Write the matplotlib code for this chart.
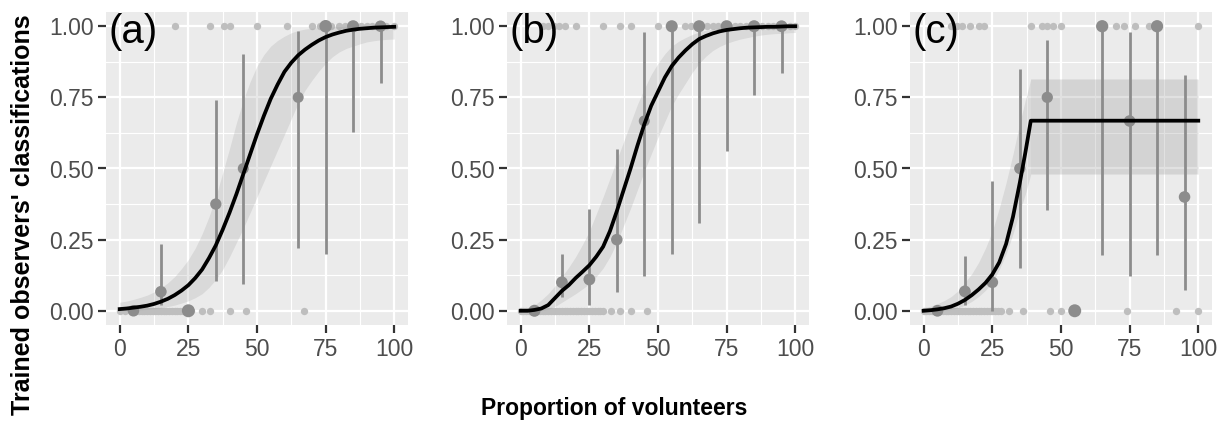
import matplotlib
matplotlib.use("Agg")
import matplotlib.pyplot as plt
import numpy as np

plt.rcParams['font.family'] = ['Liberation Sans', 'DejaVu Sans']

# ---- data ----
panel_labels = ['(a)', '(b)', '(c)']
x_ticks = [0, 25, 50, 75, 100]
y_ticks = [0.0, 0.25, 0.5, 0.75, 1.0]
y_ticklabels = ['0.00', '0.25', '0.50', '0.75', '1.00']

# raw observations (light grey dots) at 1 and 0
a_raw_one = [20, 33, 38, 40, 50, 61, 70, 73, 75, 77, 80, 82, 84, 86, 88, 90, 92, 95, 97, 100]
a_raw_zero = [0, 2, 6, 7, 8, 9, 10, 11, 12, 13, 14, 15, 16, 17, 18, 19, 20, 21, 22, 23, 24,
              25, 26, 30, 33, 40, 46, 67]
b_raw_one = [8, 10, 12, 14, 16, 20, 30, 36, 40, 50, 55, 60, 62, 65, 68, 70, 72, 75, 78, 80,
             82, 84, 86, 88, 90, 92, 94, 96, 98, 100]
b_raw_zero = [0, 1, 2, 3, 4, 5, 6, 7, 8, 9, 10, 11, 12, 13, 14, 15, 16, 17, 18, 19, 20, 21,
              22, 23, 24, 25, 26, 27, 28, 29, 30, 33, 36, 40, 46]
c_raw_one = [10, 12, 14, 17, 20, 22, 39, 43, 45, 47, 50, 65, 70, 73, 77, 82, 84, 85, 100]
c_raw_zero = [0, 1, 2, 3, 4, 5, 6, 7, 8, 9, 10, 11, 12, 13, 14, 15, 16, 17, 18, 19, 20, 21,
              22, 23, 24, 25, 26, 27, 28, 31, 36, 46, 50, 55, 74, 92, 100]

# binned proportions with intervals and counts
a_bin = [5, 15, 25, 35, 45, 65, 75, 85, 95]
a_mean = [0.0, 0.067, 0.0, 0.375, 0.5, 0.75, 1.0, 1.0, 1.0]
a_lo = [0.0, 0.02, 0.0, 0.103, 0.095, 0.22, 0.199, 0.63, 0.80]
a_hi = [0.0, 0.234, 0.0, 0.74, 0.904, 0.983, 1.0, 1.0, 1.0]
a_n = [8, 8, 14, 7, 6, 6, 12, 10, 8]

b_bin = [5, 15, 25, 35, 45, 55, 65, 75, 85, 95]
b_mean = [0.0, 0.10, 0.11, 0.25, 0.667, 1.0, 1.0, 1.0, 1.0, 1.0]
b_lo = [0.0, 0.05, 0.02, 0.067, 0.123, 0.198, 0.31, 0.561, 0.76, 0.835]
b_hi = [0.0, 0.20, 0.357, 0.57, 0.98, 1.0, 1.0, 1.0, 1.0, 1.0]
b_n = [10, 9, 9, 8, 6, 10, 10, 10, 10, 9]

c_bin = [5, 15, 25, 35, 45, 55, 65, 75, 85, 95]
c_mean = [0.0, 0.068, 0.10, 0.50, 0.75, 0.0, 1.0, 0.667, 1.0, 0.40]
c_lo = [0.0, 0.02, 0.0, 0.15, 0.354, 0.0, 0.196, 0.123, 0.196, 0.074]
c_hi = [0.0, 0.193, 0.456, 0.849, 0.953, 0.0, 1.0, 0.98, 1.0, 0.828]
c_n = [9, 9, 8, 7, 7, 14, 11, 8, 11, 8]

# fitted curves and confidence bands
ab_x = [0, 2.5, 5, 7.5, 10, 12.5, 15, 17.5, 20, 22.5, 25, 27.5, 30, 32.5, 35, 37.5, 40,
        42.5, 45, 47.5, 50, 52.5, 55, 57.5, 60, 62.5, 65, 67.5, 70, 72.5, 75, 77.5, 80,
        82.5, 85, 87.5, 90, 92.5, 95, 97.5, 100]
a_fit = [0.006, 0.008, 0.011, 0.014, 0.018, 0.024, 0.032, 0.042, 0.055, 0.071, 0.09, 0.115,
         0.145, 0.185, 0.23, 0.285, 0.345, 0.41, 0.48, 0.55, 0.62, 0.685, 0.745, 0.795, 0.84,
         0.872, 0.898, 0.918, 0.935, 0.95, 0.962, 0.971, 0.978, 0.984, 0.988, 0.991, 0.993,
         0.995, 0.996, 0.997, 0.998]
a_upper = [0.03, 0.034, 0.04, 0.047, 0.055, 0.066, 0.08, 0.098, 0.12, 0.148, 0.18, 0.22,
           0.27, 0.33, 0.40, 0.485, 0.57, 0.66, 0.74, 0.805, 0.86, 0.9, 0.93, 0.95, 0.965,
           0.977, 0.985, 0.99, 0.993, 0.995, 0.997, 0.998, 0.999, 1.0, 1.0, 1.0, 1.0, 1.0,
           1.0, 1.0, 1.0]
a_lower = [0.001, 0.0015, 0.002, 0.003, 0.005, 0.007, 0.01, 0.015, 0.02, 0.027, 0.035, 0.046,
           0.06, 0.082, 0.11, 0.145, 0.19, 0.24, 0.29, 0.345, 0.40, 0.455, 0.51, 0.565, 0.62,
           0.675, 0.73, 0.775, 0.81, 0.842, 0.87, 0.893, 0.91, 0.922, 0.93, 0.938, 0.945,
           0.949, 0.952, 0.954, 0.955]

b_fit = [0.0, 0.0, 0.003, 0.008, 0.02, 0.045, 0.07, 0.09, 0.115, 0.137, 0.16, 0.19, 0.225,
         0.28, 0.35, 0.425, 0.5, 0.58, 0.655, 0.72, 0.77, 0.82, 0.86, 0.89, 0.915, 0.937,
         0.955, 0.966, 0.975, 0.982, 0.987, 0.99, 0.993, 0.995, 0.996, 0.997, 0.998, 0.998,
         0.999, 1.0, 1.0]
b_upper = [0.002, 0.008, 0.02, 0.038, 0.06, 0.088, 0.12, 0.153, 0.19, 0.233, 0.28, 0.34,
           0.40, 0.465, 0.53, 0.595, 0.66, 0.725, 0.78, 0.83, 0.87, 0.903, 0.93, 0.947, 0.96,
           0.971, 0.98, 0.986, 0.99, 0.994, 0.996, 0.998, 1.0, 1.0, 1.0, 1.0, 1.0, 1.0, 1.0,
           1.0, 1.0]
b_lower = [0.0, 0.0, 0.0, 0.001, 0.005, 0.015, 0.03, 0.045, 0.06, 0.077, 0.095, 0.12, 0.15,
           0.19, 0.24, 0.30, 0.36, 0.425, 0.49, 0.55, 0.61, 0.665, 0.72, 0.762, 0.80, 0.838,
           0.87, 0.895, 0.915, 0.929, 0.94, 0.948, 0.955, 0.96, 0.965, 0.969, 0.972, 0.974,
           0.975, 0.977, 0.978]

c_x = [0, 2.5, 5, 7.5, 10, 12.5, 15, 17.5, 20, 22.5, 25, 27.5, 30, 32.5, 35, 37, 39, 100]
c_fit = [0.0, 0.002, 0.005, 0.009, 0.015, 0.025, 0.038, 0.055, 0.075, 0.098, 0.128, 0.17,
         0.235, 0.33, 0.45, 0.555, 0.668, 0.668]
c_upper = [0.01, 0.016, 0.025, 0.036, 0.05, 0.07, 0.10, 0.13, 0.17, 0.22, 0.28, 0.36, 0.45,
           0.55, 0.66, 0.74, 0.814, 0.814]
c_lower = [0.0, 0.0, 0.0, 0.002, 0.005, 0.01, 0.02, 0.033, 0.05, 0.072, 0.10, 0.145, 0.20,
           0.27, 0.35, 0.41, 0.48, 0.48]
c_plateau_start = 39

panels = [
    (a_raw_one, a_raw_zero, a_bin, a_mean, a_lo, a_hi, a_n, ab_x, a_fit, a_upper, a_lower),
    (b_raw_one, b_raw_zero, b_bin, b_mean, b_lo, b_hi, b_n, ab_x, b_fit, b_upper, b_lower),
    (c_raw_one, c_raw_zero, c_bin, c_mean, c_lo, c_hi, c_n, c_x, c_fit, c_upper, c_lower),
]

fig = plt.figure(figsize=(12.28, 4.30), dpi=100)
lefts = [106 / 1228, 507 / 1228, 910 / 1228]
w = 302 / 1228
bottom = 1 - 325 / 430
h = 313 / 430

for i, (one, zero, xb, mb, lo, hi, n, fx, fy, fu, fl) in enumerate(panels):
    ax = fig.add_axes([lefts[i], bottom, w, h])
    ax.set_facecolor('#EBEBEB')
    ax.set_xlim(-5, 105)
    ax.set_ylim(-0.05, 1.05)

    # grid
    for v in [12.5, 37.5, 62.5, 87.5]:
        ax.axvline(v, color='white', lw=0.8, zorder=0)
    for v in [0.125, 0.375, 0.625, 0.875]:
        ax.axhline(v, color='white', lw=0.8, zorder=0)
    for v in x_ticks:
        ax.axvline(v, color='white', lw=1.6, zorder=0)
    for v in y_ticks:
        ax.axhline(v, color='white', lw=1.6, zorder=0)

    ax.scatter(one, np.ones(len(one)), s=28, color='#BEBEBE', lw=0, zorder=1)
    ax.scatter(zero, np.zeros(len(zero)), s=28, color='#BEBEBE', lw=0, zorder=1)

    ax.fill_between(fx, fl, fu, color='#999999', alpha=0.22, lw=0, zorder=2)
    if i == 2:
        # plateau part of the ribbon is a touch darker in the original
        xs = np.array(fx)
        ax.fill_between(fx, fl, fu, where=xs >= c_plateau_start, color='#999999',
                        alpha=0.08, lw=0, zorder=2)

    ax.vlines(xb, lo, hi, color='#8C8C8C', lw=2.0, zorder=3)
    ax.scatter(xb, mb, s=[45 + 3 * k for k in n], color='#8C8C8C', lw=0, zorder=4)

    ax.plot(fx, fy, color='black', lw=2.7, zorder=5, solid_joinstyle='round')

    ax.text(0.008, 0.997, panel_labels[i], transform=ax.transAxes, ha='left', va='top',
            fontsize=29, color='black', zorder=6)

    ax.set_xticks(x_ticks)
    ax.set_xticklabels([str(t) for t in x_ticks])
    ax.set_yticks(y_ticks)
    ax.set_yticklabels(y_ticklabels)
    ax.tick_params(axis='both', colors='#333333', length=6, width=1.6,
                   labelsize=16.5, labelcolor='#4D4D4D', pad=3)
    for s in ax.spines.values():
        s.set_visible(False)

fig.text(0.5, 1 - 408 / 430, 'Proportion of volunteers', ha='center', va='center',
         fontsize=16.5, fontweight='bold')
fig.text(23 / 1228, 1 - 215 / 430, "Trained observers' classifications", ha='center',
         va='center', rotation=90, fontsize=18, fontweight='bold')

fig.savefig('out.png', dpi=100)
